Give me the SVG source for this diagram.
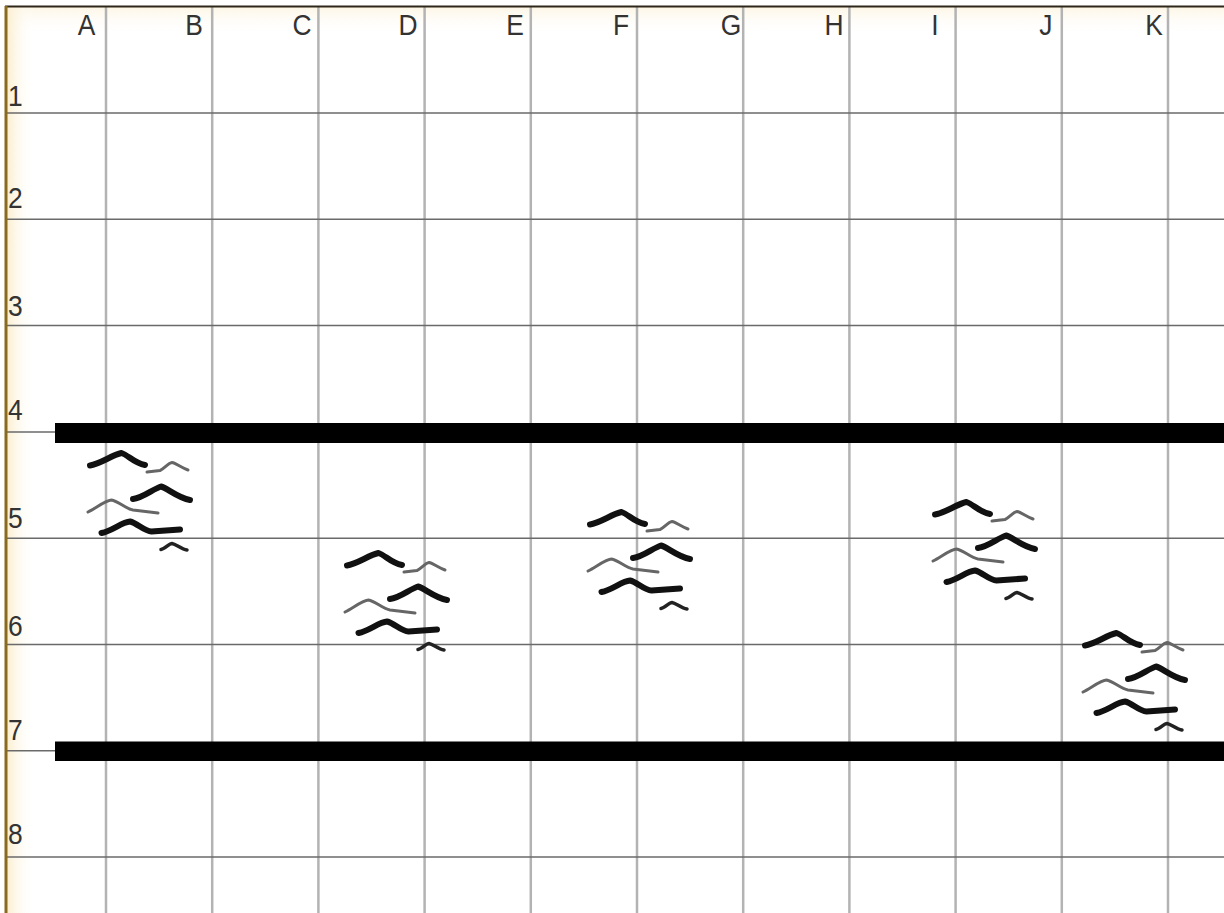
<svg xmlns="http://www.w3.org/2000/svg" xmlns:xlink="http://www.w3.org/1999/xlink" width="1224" height="913" viewBox="0 0 1224 913">
  <defs>
    <linearGradient id="edge" x1="0" y1="0" x2="1" y2="0">
      <stop offset="0" stop-color="#fbefd0"/>
      <stop offset="1" stop-color="#ffffff" stop-opacity="0"/>
    </linearGradient>
    <linearGradient id="head" x1="0" y1="0" x2="0" y2="1">
      <stop offset="0" stop-color="#fdf6e6"/>
      <stop offset="1" stop-color="#ffffff" stop-opacity="0"/>
    </linearGradient>
    <g id="flock">
      <path class="thick" d="M0,0.5 C10,-1 22,-10 31.5,-12 C38,-10 44,-2 55,0"/>
      <path class="thin" d="M57,7 L70,5.5 C74,4 78,-2 82,-2.5 C86,-2 92,3 98,5"/>
      <path class="thick" d="M43,34 C53,33 63,24 71,21.5 C77,23 88,33 100,35"/>
      <path class="thin" d="M-2,47 C6,43 16,35 21.5,35 C28,36 36,44 43,45 L68,48"/>
      <path class="thick" d="M11.5,68 C22,66 32,57 40,56.5 C47,58 54,66 61.5,66.5 L90,64.5"/>
      <path class="small" d="M71,84.5 C75,84 79,78.5 82,78.5 C86,79 91,84 97,85"/>
    </g>
  </defs>
  <style>
    .vline { stroke: #b3b3b3; stroke-width: 2.5; }
    .hline { stroke: #6a6a6a; stroke-width: 1.5; }
    .lbl { font-family: "Liberation Sans", Arial, sans-serif; font-size: 30px; fill: #333; }
    .thick { fill: none; stroke: #111; stroke-width: 6; stroke-linecap: round; stroke-linejoin: round; }
    .thin { fill: none; stroke: #666; stroke-width: 3; stroke-linecap: round; stroke-linejoin: round; }
    .small { fill: none; stroke: #222; stroke-width: 3.5; stroke-linecap: round; stroke-linejoin: round; }
    .bar { fill: #000; }
  </style>
  <rect x="0" y="0" width="1224" height="913" fill="#ffffff"/>
  <rect x="7" y="7" width="1217" height="28" fill="url(#head)"/>
  <rect x="7" y="7" width="28" height="906" fill="url(#edge)"/>

  <g id="grid">
    <g id="columns">
      <line class="vline" x1="106" y1="7" x2="106" y2="913"/>
      <line class="vline" x1="212.2" y1="7" x2="212.2" y2="913"/>
      <line class="vline" x1="318.4" y1="7" x2="318.4" y2="913"/>
      <line class="vline" x1="424.6" y1="7" x2="424.6" y2="913"/>
      <line class="vline" x1="530.8" y1="7" x2="530.8" y2="913"/>
      <line class="vline" x1="637" y1="7" x2="637" y2="913"/>
      <line class="vline" x1="743.2" y1="7" x2="743.2" y2="913"/>
      <line class="vline" x1="849.4" y1="7" x2="849.4" y2="913"/>
      <line class="vline" x1="955.6" y1="7" x2="955.6" y2="913"/>
      <line class="vline" x1="1061.8" y1="7" x2="1061.8" y2="913"/>
      <line class="vline" x1="1168" y1="7" x2="1168" y2="913"/>
    </g>
    <g id="rows">
      <line class="hline" x1="7" y1="113" x2="1224" y2="113"/>
      <line class="hline" x1="7" y1="219.3" x2="1224" y2="219.3"/>
      <line class="hline" x1="7" y1="325.6" x2="1224" y2="325.6"/>
      <line class="hline" x1="7" y1="432" x2="1224" y2="432"/>
      <line class="hline" x1="7" y1="538.2" x2="1224" y2="538.2"/>
      <line class="hline" x1="7" y1="644.5" x2="1224" y2="644.5"/>
      <line class="hline" x1="7" y1="750.8" x2="1224" y2="750.8"/>
      <line class="hline" x1="7" y1="857" x2="1224" y2="857"/>
    </g>
  </g>

  <g id="borders">
    <line x1="5" y1="6.5" x2="1224" y2="6.5" stroke="#2e2618" stroke-width="2"/>
    <line x1="6" y1="6" x2="6" y2="913" stroke="#8a6a1c" stroke-width="3"/>
  </g>

  <g id="column-labels" transform="scale(0.88 1)">
    <text class="lbl" text-anchor="middle" x="98.3" y="35">A</text>
    <text class="lbl" text-anchor="middle" x="220.5" y="35">B</text>
    <text class="lbl" text-anchor="middle" x="343.2" y="35">C</text>
    <text class="lbl" text-anchor="middle" x="463.6" y="35">D</text>
    <text class="lbl" text-anchor="middle" x="585.2" y="35">E</text>
    <text class="lbl" text-anchor="middle" x="705.7" y="35">F</text>
    <text class="lbl" text-anchor="middle" x="830.7" y="35">G</text>
    <text class="lbl" text-anchor="middle" x="947.7" y="35">H</text>
    <text class="lbl" text-anchor="middle" x="1062.5" y="35">I</text>
    <text class="lbl" text-anchor="middle" x="1188.6" y="35">J</text>
    <text class="lbl" text-anchor="middle" x="1311.4" y="35">K</text>
  </g>

  <g id="row-labels" transform="scale(0.88 1)">
    <text class="lbl" x="9" y="106">1</text>
    <text class="lbl" x="9" y="208">2</text>
    <text class="lbl" x="9" y="316">3</text>
    <text class="lbl" x="9" y="420">4</text>
    <text class="lbl" x="9" y="528">5</text>
    <text class="lbl" x="9" y="636">6</text>
    <text class="lbl" x="9" y="740">7</text>
    <text class="lbl" x="9" y="844">8</text>
  </g>

  <g id="bars">
    <rect id="bar-top" class="bar" x="55" y="423" width="1169" height="20"/>
    <rect id="bar-bottom" class="bar" x="55" y="741.5" width="1169" height="19.5"/>
  </g>

  <g id="flocks">
    <use id="flock-A" xlink:href="#flock" transform="translate(90 465)"/>
    <use id="flock-D" xlink:href="#flock" transform="translate(347 565)"/>
    <use id="flock-F" xlink:href="#flock" transform="translate(590 524)"/>
    <use id="flock-I" xlink:href="#flock" transform="translate(935 514)"/>
    <use id="flock-K" xlink:href="#flock" transform="translate(1085 645)"/>
  </g>
</svg>
